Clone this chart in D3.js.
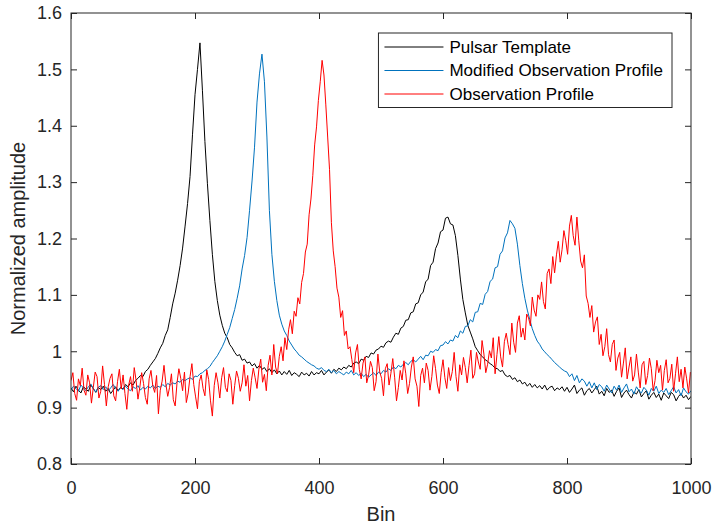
<!DOCTYPE html>
<html>
<head>
<meta charset="utf-8">
<script src="https://cdn.jsdelivr.net/npm/d3@7"></script>
<style>
    body { margin: 0; background: #fff; }
    svg { display: block; font-family: "Liberation Sans", Arial, sans-serif; }
</style>
</head>
<body>
<div id="chart"></div>
<script>
// Pulsar template, sampled every 4 bins (0..1000)
const templateStep = 4;
const templateValues = [
    .935,.928,.938,.931,.926,.937,.933,.929,.940,.934,
    .927,.936,.932,.938,.929,.934,.925,.931,.937,.930,
    .936,.933,.941,.937,.944,.940,.948,.952,.957,.955,
    .964,.968,.975,.981,.987,.996,1.006,1.014,1.028,1.038,
    1.060,1.084,1.103,1.126,1.152,1.183,1.222,1.262,1.310,1.385,
    1.455,1.500,1.547,1.462,1.372,1.298,1.232,1.172,1.124,1.090,
    1.064,1.046,1.032,1.024,1.012,1.006,.998,.992,.994,.984,
    .986,.979,.981,.974,.978,.970,.975,.968,.971,.964,
    .969,.962,.967,.960,.965,.958,.964,.959,.966,.957,
    .962,.959,.955,.963,.958,.961,.956,.964,.958,.962,
    .960,.966,.958,.963,.967,.961,.968,.964,.970,.967,
    .972,.969,.975,.972,.979,.981,.978,.986,.984,.991,
    .989,.997,.995,1.002,1.004,1.009,1.007,1.015,1.018,1.016,
    1.025,1.032,1.030,1.041,1.044,1.055,1.056,1.068,1.070,1.084,
    1.086,1.100,1.105,1.123,1.128,1.152,1.158,1.182,1.192,1.212,
    1.215,1.236,1.238,1.226,1.224,1.205,1.170,1.128,1.092,1.068,
    1.046,1.034,1.022,1.008,1.001,.994,.990,.985,.982,.978,
    .975,.970,.969,.964,.966,.958,.955,.957,.950,.953,
    .946,.949,.942,.945,.938,.943,.936,.941,.935,.939,
    .933,.940,.931,.936,.938,.930,.935,.932,.937,.929,
    .936,.927,.933,.940,.925,.931,.935,.922,.930,.934,
    .926,.932,.938,.924,.929,.921,.934,.927,.931,.920,
    .929,.935,.918,.926,.931,.923,.917,.928,.924,.932,
    .919,.925,.930,.915,.922,.927,.918,.924,.913,.926,
    .921,.916,.927,.923,.912,.920,.925,.917,.922,.914,
    .920
];

// Modified observation profile, sampled every 4 bins
const modifiedStep = 4;
const modifiedValues = [
    .931,.938,.934,.929,.940,.935,.930,.937,.942,.933,
    .928,.936,.939,.932,.937,.930,.935,.941,.934,.929,
    .936,.932,.938,.933,.930,.937,.934,.939,.931,.936,
    .933,.938,.935,.940,.934,.938,.936,.941,.937,.943,
    .940,.944,.942,.947,.945,.950,.948,.951,.953,.950,
    .956,.955,.960,.962,.966,.969,.973,.980,.986,.992,
    1.000,1.008,1.018,1.030,1.042,1.058,1.074,1.094,1.116,1.146,
    1.170,1.202,1.250,1.302,1.362,1.442,1.492,1.527,1.478,1.380,
    1.250,1.172,1.124,1.090,1.064,1.048,1.036,1.028,1.018,1.011,
    1.004,.999,.993,.990,.986,.982,.979,.976,.974,.970,
    .968,.971,.966,.964,.968,.962,.966,.960,.964,.961,
    .958,.963,.960,.966,.958,.962,.957,.961,.955,.959,
    .954,.958,.962,.957,.963,.960,.966,.963,.969,.966,
    .972,.969,.975,.972,.977,.980,.976,.982,.985,.981,
    .986,.991,.985,.993,.992,1.000,.998,1.003,1.001,1.010,
    1.011,1.017,1.013,1.020,1.018,1.028,1.024,1.036,1.032,1.044,
    1.045,1.056,1.052,1.069,1.070,1.085,1.083,1.101,1.106,1.124,
    1.128,1.148,1.150,1.172,1.178,1.201,1.210,1.232,1.226,1.218,
    1.190,1.152,1.120,1.094,1.073,1.056,1.040,1.028,1.018,1.012,
    1.004,.999,.994,.990,.985,.980,.976,.972,.968,.965,
    .963,.955,.960,.948,.957,.944,.951,.947,.938,.946,
    .935,.944,.932,.941,.937,.929,.940,.933,.926,.938,
    .931,.940,.927,.935,.942,.928,.933,.924,.937,.930,
    .926,.936,.931,.922,.934,.929,.938,.925,.931,.927,
    .934,.923,.930,.937,.926,.932,.921,.935,.928,.924,
    .930
];

// Observation profile, sampled every 3 bins (0..999)
const observedStep = 3;
const observedValues = [
    .948,.962,.925,.913,.951,.939,.970,.931,.922,.958,
    .944,.908,.936,.963,.955,.917,.929,.974,.941,.903,
    .937,.952,.960,.921,.912,.946,.968,.933,.958,.925,
    .897,.940,.955,.929,.971,.948,.915,.936,.962,.943,
    .918,.906,.951,.966,.938,.927,.957,.889,.931,.947,
    .975,.942,.920,.936,.960,.914,.903,.944,.969,.952,
    .930,.963,.909,.926,.955,.978,.941,.919,.898,.946,
    .958,.934,.921,.967,.950,.912,.885,.939,.962,.944,
    .917,.953,.971,.936,.928,.960,.948,.906,.939,.965,
    .952,.929,.944,.976,.938,.957,.912,.948,.970,.953,
    .934,.968,.986,.945,.959,.930,.975,.993,.958,1.012,
    .972,.960,.991,1.008,.983,1.024,1.003,1.038,1.056,1.031,
    1.071,1.062,1.095,1.084,1.122,1.138,1.176,1.190,1.242,1.270,
    1.312,1.366,1.398,1.445,1.478,1.516,1.490,1.437,1.380,1.322,
    1.228,1.178,1.150,1.112,1.096,1.060,1.072,1.028,1.036,1.004,
    1.008,.985,.962,.997,1.012,.968,.951,.979,.990,.944,
    .958,.982,.971,.930,.946,.995,.963,.952,.921,.969,
    .978,.940,.961,.987,.954,.912,.936,.966,.949,.983,
    .960,.925,.943,.972,.990,.951,.938,.902,.957,.970,
    .944,.979,.966,.931,.955,.992,.969,.940,.925,.962,
    .985,.953,.934,.971,.948,.964,.998,.955,.929,.976,
    .958,.989,.971,.944,.975,1.002,.952,.960,.998,.981,
    .968,1.019,.995,.962,.977,1.001,.988,1.024,.960,.994,
    1.026,.990,.972,1.017,1.032,1.012,.994,1.050,1.016,.998,
    1.050,1.063,1.025,1.041,1.020,1.066,1.059,1.045,1.096,1.073,
    1.062,1.100,1.092,1.123,1.088,1.075,1.138,1.146,1.120,1.168,
    1.139,1.171,1.195,1.158,1.180,1.214,1.196,1.172,1.222,1.241,
    1.205,1.188,1.238,1.196,1.160,1.148,1.171,1.098,1.085,1.060,
    1.081,1.034,1.052,1.061,1.012,1.030,.992,1.008,1.040,.994,
    .981,1.012,1.020,.966,.988,.998,.954,.979,1.006,.951,
    .972,.990,.947,.958,.995,.963,.935,.976,.982,.941,
    .957,.988,.969,.930,.948,.984,.962,.975,.931,.966,
    .985,.944,.952,.977,.929,.960,.990,.946,.968,.935,
    .972,.951,.926,.963
];

const xTicks = [0, 200, 400, 600, 800, 1000];
const yTicks = [0.8, 0.9, 1.0, 1.1, 1.2, 1.3, 1.4, 1.5, 1.6];

const series = [
    {name: "Pulsar Template", step: templateStep, values: templateValues, color: "#000000"},
    {name: "Modified Observation Profile", step: modifiedStep, values: modifiedValues, color: "#0072BD"},
    {name: "Observation Profile", step: observedStep, values: observedValues, color: "#FF0000"}
];

const drawChart = () => {
    const width = 715,
        height = 530;
    const margin = {top: 13, right: 24, bottom: 66, left: 71};

    const svg = d3.select("#chart")
        .append("svg")
        .attr("width", width)
        .attr("height", height);

    const x = d3.scaleLinear()
        .domain([0, 1000])
        .range([margin.left, width - margin.right]);

    const y = d3.scaleLinear()
        .domain([0.8, 1.6])
        .range([height - margin.bottom, margin.top]);

    svg.append("clipPath")
        .attr("id", "plot_clip")
        .append("rect")
        .attr("x", margin.left)
        .attr("y", margin.top)
        .attr("width", x(1000) - x(0))
        .attr("height", y(0.8) - y(1.6));

    // inward ticks like matlab, on all four sides
    const fmt = d => d3.format("~g")(d);
    const tick = 6;

    svg.append("g")
        .attr("transform", `translate(0,${y(0.8)})`)
        .call(d3.axisBottom(x).tickValues(xTicks).tickFormat(fmt).tickSize(-tick).tickSizeOuter(0).tickPadding(17));
    svg.append("g")
        .attr("transform", `translate(0,${y(1.6)})`)
        .call(d3.axisTop(x).tickValues(xTicks).tickFormat("").tickSize(-tick).tickSizeOuter(0));
    svg.append("g")
        .attr("transform", `translate(${x(0)},0)`)
        .call(d3.axisLeft(y).tickValues(yTicks).tickFormat(fmt).tickSize(-tick).tickSizeOuter(0).tickPadding(9));
    svg.append("g")
        .attr("transform", `translate(${x(1000)},0)`)
        .call(d3.axisRight(y).tickValues(yTicks).tickFormat("").tickSize(-tick).tickSizeOuter(0));

    svg.selectAll(".domain").remove();
    svg.selectAll(".tick line").attr("stroke", "#262626");
    svg.selectAll(".tick text")
        .attr("fill", "#262626")
        .attr("font-family", "Liberation Sans, Arial, sans-serif")
        .attr("font-size", 18);

    // the lines
    const line = s => d3.line()
        .x((d, i) => x(i * s.step))
        .y(d => y(d));

    svg.append("g")
        .attr("clip-path", "url(#plot_clip)")
        .selectAll("path")
        .data(series)
        .join("path")
        .attr("fill", "none")
        .attr("stroke", d => d.color)
        .attr("stroke-width", 1)
        .attr("stroke-linejoin", "round")
        .attr("d", d => line(d)(d.values));

    // frame
    svg.append("rect")
        .attr("x", x(0))
        .attr("y", y(1.6))
        .attr("width", x(1000) - x(0))
        .attr("height", y(0.8) - y(1.6))
        .attr("fill", "none")
        .attr("stroke", "#262626")
        .attr("stroke-width", 1);

    // axis labels
    svg.append("text")
        .attr("x", (x(0) + x(1000)) / 2)
        .attr("y", 521)
        .attr("text-anchor", "middle")
        .attr("font-size", 20)
        .attr("fill", "#262626")
        .text("Bin");

    svg.append("text")
        .attr("transform", `translate(25,${(y(0.8) + y(1.6)) / 2}) rotate(-90)`)
        .attr("text-anchor", "middle")
        .attr("font-size", 20)
        .attr("fill", "#262626")
        .text("Normalized amplitude");

    // legend, top right inside the axes
    const legend = svg.append("g");
    const lgRight = x(1000) - 19,
        lgTop = y(1.6) + 20,
        rowH = 23.5;

    const box = legend.append("rect")
        .attr("fill", "white")
        .attr("stroke", "#262626")
        .attr("stroke-width", 1);

    const rows = legend.selectAll("g")
        .data(series)
        .join("g");

    const texts = rows.append("text")
        .attr("font-size", 17)
        .attr("fill", "#000")
        .attr("dy", "0.35em")
        .text(d => d.name);

    const textW = d3.max(texts.nodes(), n => n.getComputedTextLength());
    const lgWidth = textW + 80,
        lgLeft = lgRight - lgWidth;

    box.attr("x", lgLeft)
        .attr("y", lgTop)
        .attr("width", lgWidth)
        .attr("height", rowH * 3 + 4);

    rows.attr("transform", (d, i) => `translate(${lgLeft},${lgTop + 14 + i * rowH})`);

    rows.append("line")
        .attr("x1", 6)
        .attr("x2", 65)
        .attr("stroke", d => d.color)
        .attr("stroke-width", 1);

    texts.attr("x", 71);
};

drawChart();
</script>
</body>
</html>
